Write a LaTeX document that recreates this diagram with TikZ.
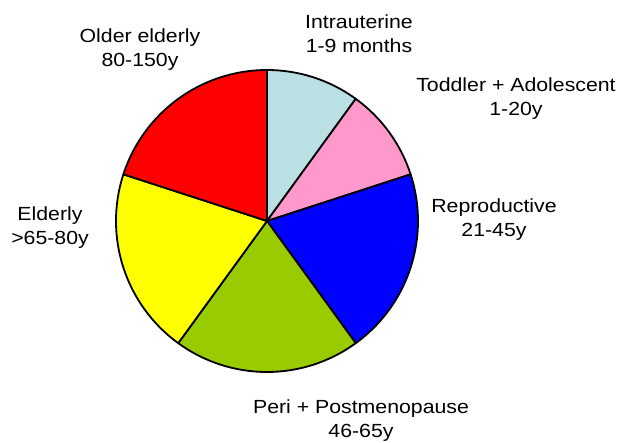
\documentclass[tikz,border=0pt]{standalone}
\usepackage{fontspec}
\setmainfont{Liberation Sans}[FakeStretch=1.12]
\definecolor{cIntra}{HTML}{BBE0E3}
\definecolor{cTodd}{HTML}{FF99CC}
\definecolor{cRepro}{HTML}{0000FF}
\definecolor{cPeri}{HTML}{99CC00}
\definecolor{cEld}{HTML}{FFFF00}
\definecolor{cOld}{HTML}{FF0000}
\tikzset{
  slice/.style={draw=black, line width=1.8pt, line join=round},
  lbl/.style={align=center, inner sep=0pt, font=\fontsize{19}{24}\selectfont, text=black},
}
\newcommand{\pieslice}[3]{%
  \filldraw[slice, fill=#3] (O) -- ++(#1:151pt) arc[start angle=#1, end angle=#2, radius=151pt] -- cycle;}
\begin{document}
\begin{tikzpicture}[x=1pt,y=1pt]
\useasboundingbox (0,0) rectangle (619,-443);
\fill[white] (0,0) rectangle (619,-443);
\coordinate (O) at (267,-221);
\pieslice{90}{54}{cIntra}
\pieslice{54}{18}{cTodd}
\pieslice{18}{-54}{cRepro}
\pieslice{-54}{-126}{cPeri}
\pieslice{-126}{-198}{cEld}
\pieslice{162}{90}{cOld}
\node[lbl] (intra) at (359,-34) {Intrauterine\\1-9 months};
\node[lbl] (todd) at (516,-99) {Toddler + Adolescent\\1-20y};
\node[lbl] (repro) at (494,-220) {Reproductive\\21-45y};
\node[lbl] (peri) at (361,-421) {Peri + Postmenopause\\46-65y};
\node[lbl] (eld) at (50,-228) {Elderly\\>65-80y};
\node[lbl] (old) at (140,-50) {Older elderly\\80-150y};
\end{tikzpicture}
\end{document}
